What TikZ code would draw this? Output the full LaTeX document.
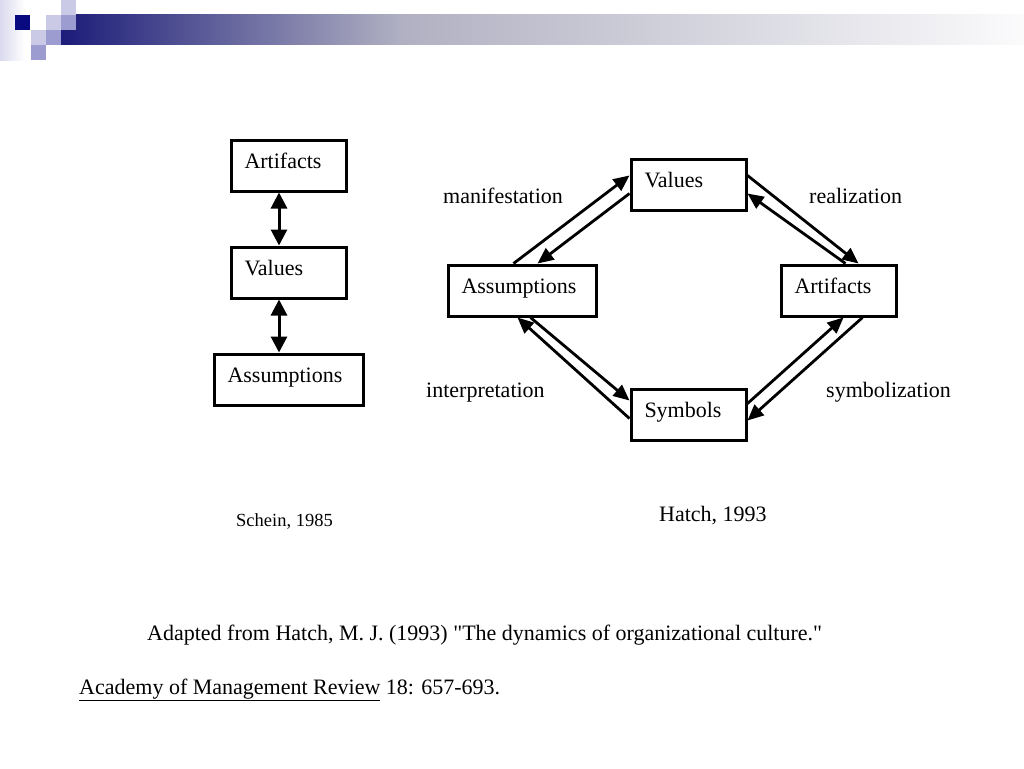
\documentclass[tikz,border=0pt]{standalone}
\usepackage{fontspec}
\setmainfont{Liberation Serif}
\newfontfamily\qfont{Liberation Serif}
\usetikzlibrary{arrows.meta,calc}
\definecolor{navy}{HTML}{0A0A80}
\definecolor{barnavy}{HTML}{1C1C7A}
\definecolor{barmid}{HTML}{B0B0C2}
\definecolor{barend}{HTML}{FBFBFC}
\definecolor{sqlight}{HTML}{CACAE6}
\definecolor{sqmid}{HTML}{9C9CD0}
\begin{document}
\begin{tikzpicture}[x=1pt,y=-1pt,
  box/.style={draw, line width=3pt, inner xsep=13.5pt, inner ysep=0pt, align=left,
    minimum height=51pt, text height=16pt, text depth=10pt,
    font=\fontsize{22}{26}\selectfont},
  lbl/.style={anchor=base west, inner sep=0pt, font=\fontsize{22}{26}\selectfont},
  dbl/.style={line width=3pt, {Triangle[length=16pt,width=16pt]}-{Triangle[length=16pt,width=16pt]}},
  one/.style={line width=2.8pt, -{Triangle[length=16pt,width=14pt]}}]
\useasboundingbox (0,0) rectangle (1024,768);
% header decoration
\shade[left color=sqlight!70, right color=white] (0,0) rectangle (25,60);
\shade[left color=barnavy, right color=barmid] (61,15) rectangle (400,45);
\shade[left color=barmid, right color=barend] (399.5,15) rectangle (1024,45);
\fill[navy] (15,15) rectangle (30,30);
\fill[sqlight] (46,15) rectangle (61,30);
\fill[sqlight] (61,0) rectangle (76,15);
\fill[sqmid] (61,15) rectangle (76,30);
\fill[sqlight] (31,30) rectangle (46,45);
\fill[sqmid] (46,30) rectangle (61,45);
\fill[sqmid] (31,45) rectangle (46,60);
% left diagram (Schein)
\node[box, text width=88pt, anchor=north west] (artL) at (229.5,138.5) {Artifacts};
\node[box, text width=88pt, anchor=north west] (valL) at (229.5,245.5) {Values};
\node[box, text width=122pt, anchor=north west] (assL) at (212.5,352.5) {Assumptions};
\draw[dbl] (artL.south -| 279,0) -- (valL.north -| 279,0);
\draw[dbl] (valL.south -| 279,0) -- (assL.north -| 279,0);
\node[anchor=base west, inner sep=0pt, font=\fontsize{18.5}{22}\selectfont] (schein) at (236,526) {Schein, 1985};
% right diagram (Hatch)
\node[box, text width=88pt, anchor=north west] (valR) at (629.5,157.5) {Values};
\node[box, text width=121pt, anchor=north west] (assR) at (446.5,263.5) {Assumptions};
\node[box, text width=88pt, anchor=north west] (artR) at (779.5,263.5) {Artifacts};
\node[box, text width=88pt, anchor=north west] (symR) at (629.5,387.5) {Symbols};
% attachment points
\coordinate (a1) at ($(assR.north west)+(67,0)$);
\coordinate (a2) at ($(assR.north west)+(91,0)$);
\coordinate (a3) at ($(assR.south west)+(84,0)$);
\coordinate (a4) at ($(assR.south west)+(71,0)$);
\coordinate (v1) at ($(valR.north west)+(0,18)$);
\coordinate (v2) at ($(valR.north west)+(0,36)$);
\coordinate (v3) at ($(valR.north east)+(0,18)$);
\coordinate (v4) at ($(valR.north east)+(0,36)$);
\coordinate (r1) at ($(artR.north west)+(79,0)$);
\coordinate (r2) at ($(artR.north west)+(66,0)$);
\coordinate (r3) at ($(artR.south west)+(64,0)$);
\coordinate (r4) at ($(artR.south west)+(83,0)$);
\coordinate (s1) at ($(symR.north west)+(0,13)$);
\coordinate (s2) at ($(symR.north west)+(0,31)$);
\coordinate (s3) at ($(symR.north east)+(0,16)$);
\coordinate (s4) at ($(symR.north east)+(0,33)$);
\draw[one] (a1) -- (v1);
\draw[one] (v2) -- (a2);
\draw[one] (v3) -- (r1);
\draw[one] (r2) -- (v4);
\draw[one] (a3) -- (s1);
\draw[one] (s2) -- (a4);
\draw[one] (s3) -- (r3);
\draw[one] (r4) -- (s4);
\node[lbl] (lman) at (443,203) {manifestation};
\node[lbl] (lrea) at (809,203) {realization};
\node[lbl] (lint) at (426,397) {interpretation};
\node[lbl] (lsym) at (826,397) {symbolization};
\node[lbl] (hatch) at (659,521) {Hatch, 1993};
% reference
\node[lbl] (ref1) at (147,640) {Adapted from Hatch, M. J. (1993) {\qfont"}The dynamics of organizational culture.{\qfont"}};
\node[lbl] (ref2) at (79,694) {\underline{Academy of Management Review} 18: 657-693.};
\end{tikzpicture}
\end{document}
